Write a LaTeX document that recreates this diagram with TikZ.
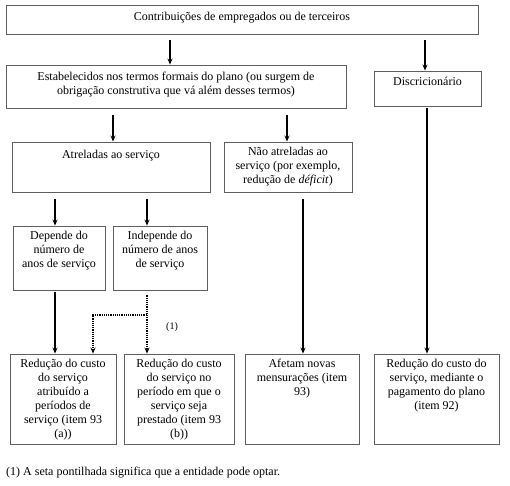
\documentclass[tikz,border=0pt]{standalone}
\usepackage{fontspec}
\setmainfont{Liberation Serif}
\usetikzlibrary{positioning, arrows.meta}
\definecolor{boxgray}{RGB}{95,95,95}
\tikzset{
  box/.style={draw=boxgray, line width=0.9pt, inner sep=0pt},
  txt/.style={align=center, inner sep=0pt, font=\fontsize{12}{14}\selectfont},
  toptxt/.style={txt, anchor=north, execute at begin node=\strut},
  arr/.style={-{Stealth[length=6pt,width=5pt]}, line width=1.2pt},
  opt/.style={arr, densely dotted},
}

\begin{document}
\begin{tikzpicture}[x=1pt, y=-1pt]
    \useasboundingbox (0,0) rectangle (510,485);
    % caixas
    \node[box, minimum width=472pt, minimum height=29pt] (contrib) at (242,19.5) {};
    \node[box, minimum width=340pt, minimum height=43pt] (plano) at (176,86.5) {};
    \node[box, minimum width=107pt, minimum height=35pt] (disc) at (427.5,88.5) {};
    \node[box, minimum width=198pt, minimum height=50pt] (atr) at (111,167) {};
    \node[box, minimum width=128pt, minimum height=50pt] (nao) at (288,167) {};
    \node[box, minimum width=92pt, minimum height=64pt] (dep) at (59,258) {};
    \node[box, minimum width=94pt, minimum height=64pt] (ind) at (160,258) {};
    \node[box, minimum width=106pt, minimum height=90pt] (redA) at (63,399) {};
    \node[box, minimum width=110pt, minimum height=90pt] (redB) at (179,399) {};
    \node[box, minimum width=114pt, minimum height=90pt] (afet) at (302,399) {};
    \node[box, minimum width=125pt, minimum height=90pt] (redD) at (436.5,399) {};

    % textos
    \node[txt] (contribtxt) at ([yshift=2pt]contrib.center) {Contribuições de empregados ou de terceiros};
    \node[txt] (planotxt) at ([yshift=2pt]plano.center) {Estabelecidos nos termos formais do plano (ou surgem de\\obrigação construtiva que vá além desses termos)};
    \node[toptxt] (disctxt) at ([yshift=-5pt]disc.north) {Discricionário};
    \node[toptxt] (atrtxt) at ([yshift=-7pt]atr.north) {Atreladas ao serviço};
    \node[txt] (naotxt) at (nao.center) {Não atreladas ao\\serviço (por exemplo,\\redução de \textit{déficit})};
    \node[toptxt] (deptxt) at ([yshift=-5pt]dep.north) {Depende do\\número de\\anos de serviço};
    \node[toptxt] (indtxt) at ([yshift=-5pt]ind.north) {Independe do\\número de anos\\de serviço};
    \node[toptxt] (redAtxt) at ([yshift=-5pt]redA.north) {Redução do custo\\do serviço\\atribuído a\\períodos de\\serviço (item 93\\(a))};
    \node[toptxt] (redBtxt) at ([yshift=-5pt]redB.north) {Redução do custo\\do serviço no\\período em que o\\serviço seja\\prestado (item 93\\(b))};
    \node[toptxt] (afettxt) at ([yshift=-5pt]afet.north) {Afetam novas\\mensurações (item\\93)};
    \node[toptxt] (redDtxt) at ([yshift=-5pt]redD.north) {Redução do custo do\\serviço, mediante o\\pagamento do plano\\(item 92)};

    % setas
    \draw[arr] (contrib.south -| 170,0) ++(0,6) -- (plano.north -| 170,0);
    \draw[arr] (contrib.south -| 425,0) ++(0,6) -- (disc.north -| 425,0);
    \draw[arr] (plano.south -| 113,0) ++(0,7) -- (atr.north -| 113,0);
    \draw[arr] (plano.south -| 287,0) ++(0,7) -- (nao.north -| 287,0);
    \draw[arr] (atr.south -| 55,0) ++(0,7) -- (dep.north -| 55,0);
    \draw[arr] (atr.south -| 147,0) ++(0,7) -- (ind.north -| 147,0);
    \draw[arr] (nao.south -| 303,0) ++(0,7) -- (afet.north -| 303,0);
    \draw[arr] (disc.south -| 427,0) ++(0,2) -- (redD.north -| 427,0);
    \draw[arr] (dep.south -| 55,0) ++(0,2) -- (redA.north -| 55,0);

    % setas pontilhadas
    \coordinate (fork) at (147,315);
    \draw[opt] (ind.south -| fork) ++(0,5) -- (fork) -| (redA.north -| 93,0);
    \draw[opt] (fork) -- (redB.north -| fork);
    \node[txt, font=\fontsize{10}{12}\selectfont] (um) at (172,327) {(1)};

    % nota
    \node[txt, anchor=west] (nota) at (6,473) {(1) A seta pontilhada significa que a entidade pode optar.};
\end{tikzpicture}
\end{document}
